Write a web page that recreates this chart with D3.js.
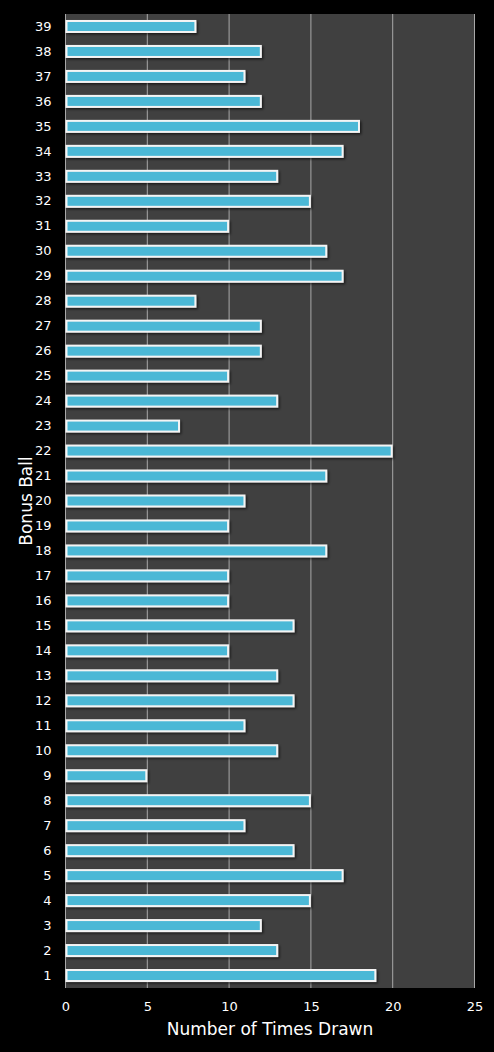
<!DOCTYPE html>
<meta charset="utf-8">
<style>
  body { margin: 0; background: #000; }
  svg { display: block; }
</style>
<body>
<div id="chart"></div>
<script src="https://d3js.org/d3.v7.min.js"></script>
<script>

// bonus ball numbers, bottom to top
var balls = [1, 2, 3, 4, 5, 6, 7, 8, 9, 10, 11, 12, 13, 14, 15, 16, 17, 18, 19, 20,
             21, 22, 23, 24, 25, 26, 27, 28, 29, 30, 31, 32, 33, 34, 35, 36, 37, 38, 39];
var timesDrawn = [19, 13, 12, 15, 17, 14, 11, 15, 5, 13, 11, 14, 13, 10, 14, 10, 10, 16, 10, 11,
                  16, 20, 7, 13, 10, 12, 12, 8, 17, 16, 10, 15, 13, 17, 18, 12, 11, 12, 8];
var xTicks = [0, 5, 10, 15, 20, 25];

var data = balls.map(function(b, i) { return {ball: b, count: timesDrawn[i]}; });

var W = 494, H = 1052;
var margin = {top: 14, right: 20, bottom: 64, left: 65.5};
var font = "Verdana, 'DejaVu Sans', sans-serif";

var svg = d3.select("#chart").append("svg")
    .attr("width", W)
    .attr("height", H)
    .style("font-family", font);

svg.append("rect").attr("width", W).attr("height", H).attr("fill", "#000");

// soft shadow under the bars
var defs = svg.append("defs");
var f = defs.append("filter").attr("id", "shadow")
    .attr("x", "-5%").attr("y", "-50%").attr("width", "110%").attr("height", "200%");
f.append("feDropShadow")
    .attr("dx", 1.5).attr("dy", 1.5).attr("stdDeviation", 1)
    .attr("flood-color", "#000").attr("flood-opacity", 0.6);

var g = svg.append("g")
    .attr("transform", "translate(" + margin.left + "," + margin.top + ")");

var x = d3.scaleLinear().domain([0, 25]).range([0, 409]);
var y = d3.scaleBand()
    .domain(balls.slice().reverse())
    .range([0, 974]);

// plot background
g.append("rect")
    .attr("width", x(25))
    .attr("height", y.range()[1])
    .attr("fill", "#404040");

// gridlines
g.selectAll(".grid")
  .data(xTicks.slice(1))
  .enter().append("line")
    .attr("x1", function(d) { return x(d); })
    .attr("x2", function(d) { return x(d); })
    .attr("y1", 0)
    .attr("y2", y.range()[1])
    .attr("stroke", "#a8a8a8")
    .attr("stroke-width", 1);

// left edge
g.append("line")
    .attr("x1", 0).attr("x2", 0)
    .attr("y1", 0).attr("y2", y.range()[1])
    .attr("stroke", "#a8a8a8");

// bars
var barH = 13;
g.selectAll(".bar")
  .data(data)
  .enter().append("rect")
    .attr("x", x(0) + 1)
    .attr("y", function(d) { return y(d.ball) + y.bandwidth() / 2 - barH / 2 + 1; })
    .attr("width", function(d) { return x(d.count) - x(0) - 2; })
    .attr("height", barH - 2)
    .attr("fill", "#4bb8d6")
    .attr("stroke", "#f4f4f4")
    .attr("stroke-width", 2)
    .attr("filter", "url(#shadow)");

// x axis
var xAxis = g.append("g")
    .attr("transform", "translate(0," + y.range()[1] + ")")
    .call(d3.axisBottom(x).tickValues(xTicks).tickSize(0).tickPadding(14));
xAxis.select(".domain").remove();
xAxis.selectAll("text")
    .attr("fill", "#fff")
    .style("font-size", "13px")
    .style("font-family", font);

// y axis
var yAxis = g.append("g")
    .call(d3.axisLeft(y).tickSize(0).tickPadding(14));
yAxis.select(".domain").remove();
yAxis.selectAll("text")
    .attr("fill", "#fff")
    .style("font-size", "13px")
    .style("font-family", font);

// axis titles
svg.append("text")
    .attr("x", margin.left + x(25) / 2)
    .attr("y", 1035)
    .attr("text-anchor", "middle")
    .attr("fill", "#fff")
    .style("font-size", "17px")
    .text("Number of Times Drawn");

svg.append("text")
    .attr("transform", "translate(32," + (margin.top + y.range()[1] / 2) + ") rotate(-90)")
    .attr("text-anchor", "middle")
    .attr("fill", "#fff")
    .style("font-size", "17px")
    .text("Bonus Ball");

</script>
</body>
